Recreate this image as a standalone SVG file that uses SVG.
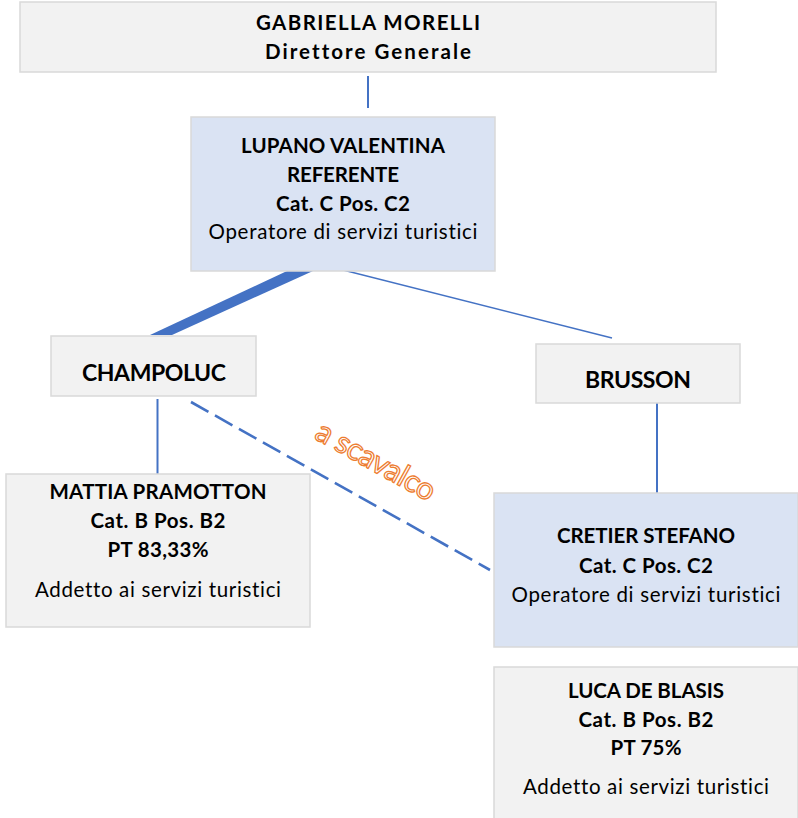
<svg xmlns="http://www.w3.org/2000/svg" width="798" height="818" viewBox="0 0 798 818">
<style>
.box{fill:#F2F2F2;stroke:#D9D9D9;stroke-width:1.5}
.blue{fill:#DAE3F3;stroke:#D9D9D9;stroke-width:1.5}
text{font-family:Lato,"Liberation Sans",sans-serif;fill:#000;text-anchor:middle;font-variant-ligatures:none}
.b{font-weight:bold;font-size:20.5px}
.r{font-size:20.5px}
.big{font-weight:bold;font-size:23px}
.conn{stroke:#4472C4;fill:none}
</style>
<rect width="798" height="818" fill="#fff"/>
<g id="connectors">
<line class="conn" x1="368" y1="76" x2="368" y2="108" stroke-width="2"/>
<polygon points="287,271 313,271 172,335 150,335" fill="#4472C4"/>
<line class="conn" x1="343" y1="270" x2="612" y2="338" stroke-width="1.3"/>
<line class="conn" x1="157.5" y1="399" x2="157.5" y2="475" stroke-width="2"/>
<line class="conn" x1="657" y1="399" x2="657" y2="493" stroke-width="2"/>
<line class="conn" x1="191" y1="402" x2="490" y2="570" stroke-width="2.6" stroke-dasharray="20 7.5"/>
</g>
<g id="label-scavalco">
<text x="0" y="0" transform="translate(371,470) rotate(29)" style="font-size:31px;fill:#fff;stroke:#ED7D31;stroke-width:1.3" textLength="132">a scavalco</text>
</g>
<g id="node-morelli">
<rect class="box" x="20" y="2" width="696" height="70"/>
<text class="b" x="368" y="30" textLength="224">GABRIELLA MORELLI</text>
<text class="b" x="368" y="59" textLength="206">Direttore Generale</text>
</g>
<g id="node-lupano">
<rect class="blue" x="191" y="117" width="304" height="154"/>
<text class="b" x="343" y="153" textLength="204">LUPANO VALENTINA</text>
<text class="b" x="343" y="182" textLength="112">REFERENTE</text>
<text class="b" x="343" y="211" textLength="134">Cat. C Pos. C2</text>
<text class="r" x="343" y="239" textLength="269">Operatore di servizi turistici</text>
</g>
<g id="node-champoluc">
<rect class="box" x="51" y="336" width="205" height="60"/>
<text class="big" x="154" y="381" textLength="144">CHAMPOLUC</text>
</g>
<g id="node-brusson">
<rect class="box" x="536" y="344" width="204" height="59"/>
<text class="big" x="638" y="388" textLength="106">BRUSSON</text>
</g>
<g id="node-pramotton">
<rect class="box" x="6" y="474" width="304" height="153"/>
<text class="b" x="158" y="499" textLength="217">MATTIA PRAMOTTON</text>
<text class="b" x="158" y="528" textLength="135">Cat. B Pos. B2</text>
<text class="b" x="158" y="557" textLength="101">PT 83,33%</text>
<text class="r" x="158" y="597" textLength="246">Addetto ai servizi turistici</text>
</g>
<g id="node-cretier">
<rect class="blue" x="494" y="493" width="304" height="154"/>
<text class="b" x="646" y="543" textLength="178">CRETIER STEFANO</text>
<text class="b" x="646" y="573" textLength="134">Cat. C Pos. C2</text>
<text class="r" x="646" y="602" textLength="269">Operatore di servizi turistici</text>
</g>
<g id="node-deblasis">
<rect class="box" x="494" y="667" width="304" height="160"/>
<text class="b" x="646" y="698" textLength="156">LUCA DE BLASIS</text>
<text class="b" x="646" y="727" textLength="135">Cat. B Pos. B2</text>
<text class="b" x="646" y="755" textLength="71">PT 75%</text>
<text class="r" x="646" y="794" textLength="246">Addetto ai servizi turistici</text>
</g>
</svg>
